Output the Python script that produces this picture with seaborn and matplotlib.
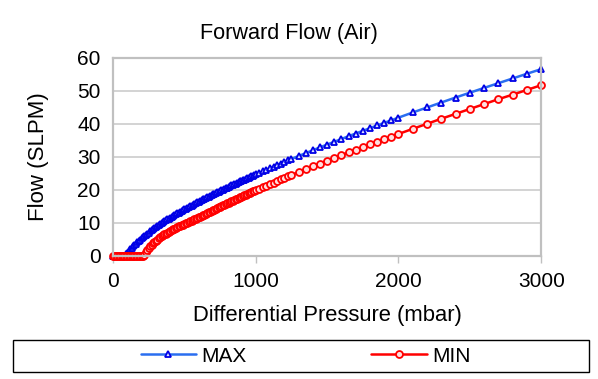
import pandas as pd
import matplotlib.pyplot as plt
import seaborn as sns
from matplotlib.patches import Rectangle

# Werte (mbar)
pressure = [0, 10, 20, 30, 40, 50, 60, 70, 80, 90,
            100, 110, 120, 130, 140, 150, 160, 170, 180, 190,
            200, 210, 220, 230, 240, 250, 260, 270, 280, 290,
            300, 310, 320, 330, 340, 350, 360, 370, 380, 390,
            400, 410, 420, 430, 440, 450, 460, 470, 480, 490,
            500, 510, 520, 530, 540, 550, 560, 570, 580, 590,
            600, 610, 620, 630, 640, 650, 660, 670, 680, 690,
            700, 710, 720, 730, 740, 750, 760, 770, 780, 790,
            800, 810, 820, 830, 840, 850, 860, 870, 880, 890,
            900, 910, 920, 930, 940, 950, 960, 970, 980, 990,
            1000, 1025, 1050, 1075, 1100, 1125, 1150, 1175, 1200, 1225, 1250,
            1300, 1350, 1400, 1450, 1500, 1550, 1600, 1650, 1700, 1750, 1800,
            1850, 1900, 1950, 2000,
            2100, 2200, 2300, 2400, 2500, 2600, 2700, 2800, 2900, 3000]

# Flow MAX (SLPM)
max_flow = [0, 0, 0, 0, 0, 0, 0, 0, 0, 0.5,
            1.0, 1.5, 2.0, 2.45, 2.9, 3.3, 3.7, 4.1, 4.5, 4.9,
            5.3, 5.65, 6.0, 6.35, 6.7, 7.05, 7.4, 7.75, 8.1, 8.45,
            8.8, 9.11, 9.42, 9.70, 9.98, 10.25, 10.52, 10.79, 11.05, 11.31,
            11.57, 11.83, 12.09, 12.34, 12.59, 12.85, 13.10, 13.35, 13.59, 13.83,
            14.07, 14.31, 14.55, 14.79, 15.02, 15.26, 15.49, 15.72, 15.95, 16.18,
            16.40, 16.63, 16.86, 17.09, 17.31, 17.53, 17.75, 17.97, 18.18, 18.40,
            18.62, 18.83, 19.03, 19.25, 19.47, 19.68, 19.89, 20.10, 20.31, 20.52,
            20.72, 20.93, 21.14, 21.35, 21.55, 21.74, 21.93, 22.15, 22.36, 22.55,
            22.74, 22.94, 23.13, 23.33, 23.53, 23.74, 23.94, 24.13, 24.32, 24.52,
            24.71, 25.19, 25.67, 26.14, 26.61, 27.07, 27.53, 27.99, 28.45, 28.92, 29.38,
            30.27, 31.13, 32.02, 32.90, 33.73, 34.57, 35.42, 36.28, 37.08, 37.90, 38.71,
            39.54, 40.33, 41.11, 41.90,
            43.48, 44.99, 46.50, 48.01, 49.48, 50.93, 52.37, 53.80, 55.22, 56.62]

# Flow MIN (SLPM)
min_flow = [0, 0, 0, 0, 0, 0, 0, 0, 0, 0,
            0, 0, 0, 0, 0, 0, 0, 0, 0, 0,
            0, 0, 0.3, 1.05, 1.8, 2.35, 2.9, 3.35, 3.8, 4.2,
            4.6, 4.95, 5.3, 5.6, 5.9, 6.2, 6.5, 6.75, 7.0, 7.25,
            7.5, 7.75, 8.0, 8.25, 8.5, 8.7, 8.9, 9.1, 9.3, 9.5,
            9.7, 9.9, 10.1, 10.3, 10.5, 10.7, 10.9, 11.1, 11.3, 11.5,
            11.7, 11.9, 12.1, 12.3, 12.51, 12.74, 12.96, 13.18, 13.39, 13.61,
            13.83, 14.04, 14.25, 14.47, 14.68, 14.89, 15.10, 15.31, 15.51, 15.73,
            15.94, 16.14, 16.34, 16.55, 16.76, 16.96, 17.15, 17.35, 17.55, 17.75,
            17.95, 18.14, 18.33, 18.53, 18.72, 18.92, 19.12, 19.32, 19.51, 19.71,
            19.90, 20.37, 20.83, 21.30, 21.76, 22.23, 22.70, 23.16, 23.61, 24.06, 24.50,
            25.40, 26.28, 27.12, 28.00, 28.86, 29.71, 30.52, 31.36, 32.19, 33.00, 33.80,
            34.58, 35.38, 36.17, 36.96,
            38.51, 40.04, 41.57, 43.06, 44.55, 46.04, 47.50, 48.88, 50.32, 51.75]

df = pd.DataFrame({'Pressure': pressure, 'MAX': max_flow, 'MIN': min_flow})

sns.set_style("white")
plt.rcParams['font.family'] = ['Liberation Sans', 'DejaVu Sans']
plt.rcParams['text.color'] = 'black'
plt.rcParams['axes.labelcolor'] = 'black'

fig = plt.figure(figsize=(5.98, 3.79), dpi=100)
ax = fig.add_axes([0.189, 0.325, 0.716, 0.522])

sns.lineplot(data=df, x='Pressure', y='MAX', ax=ax, color='#2a6ef0', lw=1.8,
             marker='^', markersize=5, markeredgecolor='#0000e6', markerfacecolor='#dde4ff',
             markeredgewidth=1.3, clip_on=False, label='MAX')
sns.lineplot(data=df, x='Pressure', y='MIN', ax=ax, color='#ff0000', lw=1.8,
             marker='o', markersize=5, markeredgecolor='#ff0000', markerfacecolor='#ffe0e0',
             markeredgewidth=1.3, clip_on=False, label='MIN')

ax.set_xlim(0, 3000)
ax.set_ylim(0, 60)
ax.set_xticks([0, 1000, 2000, 3000])
ax.set_yticks([0, 10, 20, 30, 40, 50, 60])
ax.yaxis.grid(True, color='#c8c8c8', lw=1.1)
ax.xaxis.grid(False)
for s in ax.spines.values():
    s.set_color('#c0c0c0')
    s.set_linewidth(1.6)
ax.tick_params(axis='x', length=5, width=1, color='#c0c0c0', pad=7, labelsize=15,
               labelcolor='black', bottom=True)
ax.tick_params(axis='y', length=0, pad=9, labelsize=15, labelcolor='black')

ax.set_title('Forward Flow (Air)', fontsize=15.6, pad=13.5, x=0.411)
ax.set_xlabel('Differential Pressure (mbar)', fontsize=15.8, labelpad=10)
ax.set_ylabel('Flow (SLPM)', fontsize=16, labelpad=20)

# Legende unten mit eigenem Rahmen
handles, labels = ax.get_legend_handles_labels()
ax.get_legend().remove()
fig.add_artist(Rectangle((13 / 598, 1 - 372 / 379), 576 / 598, 32 / 379,
                         transform=fig.transFigure, fill=False, ec='black', lw=1))
fig.legend(handles, labels, loc='center', bbox_to_anchor=(0.511, 1 - 356 / 379),
           ncol=2, frameon=False, fontsize=15, handlelength=2.65, columnspacing=6.0,
           handletextpad=0.25)

plt.savefig('out.png', dpi=100)
plt.close()
